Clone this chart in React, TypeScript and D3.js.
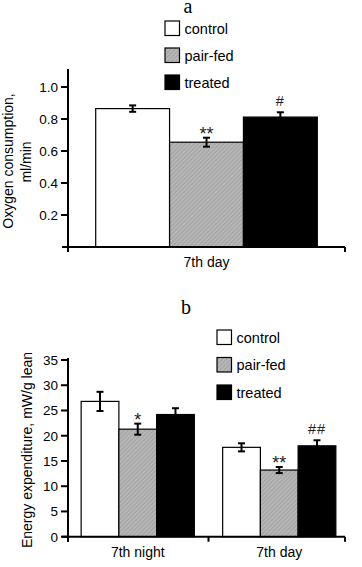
import React from 'react';
import * as d3 from 'd3';

const series = ['control', 'pair-fed', 'treated'];

// panel a
const oxygenCategories = ['7th day'];
const oxygenMeans = [0.865, 0.655, 0.812];
const oxygenErrors = [0.02, 0.028, 0.03];
const oxygenMarks = ['', '**', '#'];
const oxygenTicks = [0.2, 0.4, 0.6, 0.8, 1.0];

// panel b
const energyCategories = ['7th night', '7th day'];
const energyControl = [26.8, 17.7];
const energyPairFed = [21.3, 13.2];
const energyTreated = [24.2, 18.0];
const energyControlErr = [1.9, 0.8];
const energyPairFedErr = [1.1, 0.6];
const energyTreatedErr = [1.25, 1.1];
const energyMarks = [['', '*', ''], ['', '**', '##']];
const energyTicks = [0, 5, 10, 15, 20, 25, 30, 35];

const font = '"Liberation Sans", Arial, sans-serif';
const fills = ['#ffffff', 'url(#hatch)', '#000000'];

type Bar = { cat: string; s: string; v: number; e: number; mark: string };

function Panel({ top, bars, cats, yDomain, yRange, axisTop, ticks, fmt, band, legend, title, titleX, titleY, yLabel }: any) {
  const y = d3.scaleLinear().domain(yDomain).range(yRange);
  const x0 = d3.scaleBand<string>().domain(cats).range(band.range).paddingInner(band.inner).paddingOuter(band.outer);
  const x1 = d3.scaleBand<string>().domain(series).range([0, x0.bandwidth()]);
  const base = y(0);
  const axisX = 68;
  const axisEnd = 345;
  const downTicks = [axisX, axisEnd];
  for (let i = 1; i < cats.length; i++) {
    downTicks.push((x0(cats[i - 1])! + x0.bandwidth() + x0(cats[i])!) / 2);
  }
  return (
    <g transform={`translate(0,${top})`}>
      <text x={titleX} y={titleY} textAnchor="middle" fontFamily="'Liberation Serif', 'Times New Roman', serif" fontSize={20}>{title}</text>
      {/* legend */}
      {series.map((s, i) => (
        <g key={s} transform={`translate(${legend.x},${legend.y + i * legend.gap})`}>
          <rect x={0} y={0} width={14.5} height={14.5} fill={fills[i]} stroke="#000" strokeWidth={1.2} />
          <text x={19.5} y={12.5} fontFamily={font} fontSize={14.5}>{s}</text>
        </g>
      ))}
      {/* bars */}
      {bars.map((d: Bar, i: number) => {
        const bx = x0(d.cat)! + x1(d.s)!;
        const si = series.indexOf(d.s);
        const cx = bx + x1.bandwidth() / 2;
        const errTop = y(d.v + d.e);
        const isHash = d.mark.startsWith('#');
        return (
          <g key={i}>
            <rect x={bx} y={y(d.v)} width={x1.bandwidth()} height={base - y(d.v)} fill={fills[si]} stroke="#000" strokeWidth={1.2} />
            <line x1={cx} x2={cx} y1={errTop} y2={y(d.v - d.e)} stroke="#000" strokeWidth={2} />
            <line x1={cx - 3.5} x2={cx + 3.5} y1={errTop} y2={errTop} stroke="#000" strokeWidth={2} />
            {si !== 2 && <line x1={cx - 3.5} x2={cx + 3.5} y1={y(d.v - d.e)} y2={y(d.v - d.e)} stroke="#000" strokeWidth={2} />}
            {d.mark && (
              <text x={cx} y={isHash ? errTop - 6 : errTop + 2} textAnchor="middle" fontFamily={font} fontSize={isHash ? 14.5 : 18} fill="#222" letterSpacing={isHash ? 1 : 0}>{d.mark}</text>
            )}
          </g>
        );
      })}
      {/* y axis */}
      <line x1={axisX} x2={axisX} y1={axisTop} y2={base + 5} stroke="#000" strokeWidth={2} />
      {ticks.map((t: number) => (
        <g key={t} transform={`translate(0,${y(t)})`}>
          <line x1={axisX - 7} x2={axisX} stroke="#000" strokeWidth={2} />
          <text x={axisX - 10} dy="0.36em" textAnchor="end" fontFamily={font} fontSize={13.5}>{fmt(t)}</text>
        </g>
      ))}
      {/* x axis */}
      <line x1={axisX - 6} x2={axisEnd} y1={base} y2={base} stroke="#000" strokeWidth={2} />
      {downTicks.map((tx, i) => (
        <line key={i} x1={tx} x2={tx} y1={base} y2={base + 5} stroke="#000" strokeWidth={2} />
      ))}
      {cats.map((c: string) => (
        <text key={c} x={x0(c)! + x0.bandwidth() / 2} y={base + 20} textAnchor="middle" fontFamily={font} fontSize={14}>{c}</text>
      ))}
      {yLabel}
    </g>
  );
}

export default function App() {
  const oxygenBars: Bar[] = series.map((s, i) => ({ cat: oxygenCategories[0], s, v: oxygenMeans[i], e: oxygenErrors[i], mark: oxygenMarks[i] }));
  const energyVals = [energyControl, energyPairFed, energyTreated];
  const energyErrs = [energyControlErr, energyPairFedErr, energyTreatedErr];
  const energyBars: Bar[] = [];
  energyCategories.forEach((c, ci) => {
    series.forEach((s, si) => {
      energyBars.push({ cat: c, s, v: energyVals[si][ci], e: energyErrs[si][ci], mark: energyMarks[ci][si] });
    });
  });

  return (
    <svg width={362} height={567} style={{ position: 'absolute', left: 0, top: 0, background: '#fff' }}>
      <defs>
        <pattern id="hatch" width={3} height={3} patternUnits="userSpaceOnUse" patternTransform="rotate(45)">
          <rect width={3} height={3} fill="#a9a9a9" />
          <line x1={0} y1={0} x2={0} y2={3} stroke="#d2d2d2" strokeWidth={1} />
        </pattern>
      </defs>
      <Panel
        top={0}
        bars={oxygenBars}
        cats={oxygenCategories}
        yDomain={[0, 1]}
        yRange={[247, 87]}
        axisTop={69}
        ticks={oxygenTicks}
        fmt={d3.format('.1f')}
        band={{ range: [68, 345], inner: 0, outer: 0.125 }}
        legend={{ x: 165, y: 21, gap: 27 }}
        title="a"
        titleX={188}
        titleY={13}
        yLabel={
          <g fontFamily={font} fontSize={14}>
            <text transform="translate(13,161) rotate(-90)" textAnchor="middle">Oxygen consumption,</text>
            <text transform="translate(31,162) rotate(-90)" textAnchor="middle">ml/min</text>
          </g>
        }
      />
      <Panel
        top={0}
        bars={energyBars}
        cats={energyCategories}
        yDomain={[0, 35]}
        yRange={[536.7, 360]}
        axisTop={358}
        ticks={energyTicks}
        fmt={d3.format('d')}
        band={{ range: [67, 350], inner: 0.2, outer: 0.1 }}
        legend={{ x: 217, y: 330, gap: 27.5 }}
        title="b"
        titleX={186}
        titleY={314}
        yLabel={
          <g fontFamily={font} fontSize={14}>
            <text transform="translate(32,450) rotate(-90)" textAnchor="middle">Energy expenditure, mW/g lean</text>
          </g>
        }
      />
    </svg>
  );
}
